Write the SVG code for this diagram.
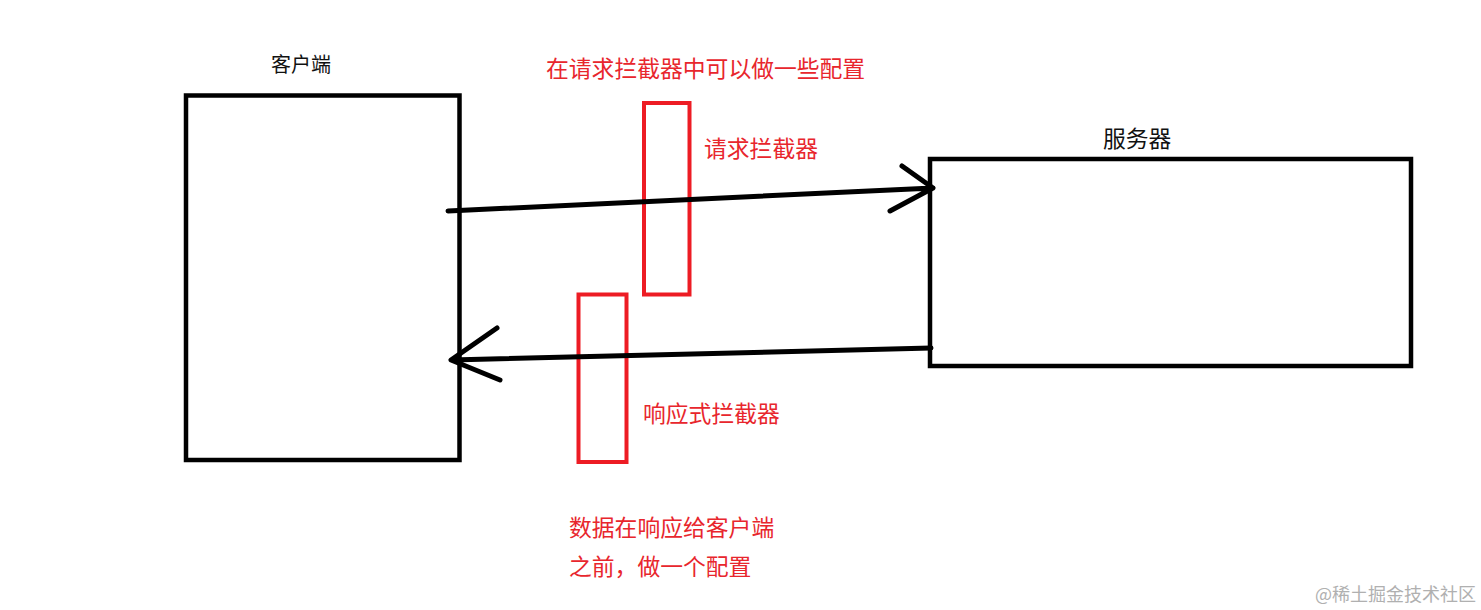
<svg xmlns="http://www.w3.org/2000/svg" width="1481" height="610" viewBox="0 0 1481 610">
<style>
.box{fill:none;stroke:#000;stroke-width:4.5}
.rbox{fill:none;stroke:#ED1C24;stroke-width:4}
.ln{fill:none;stroke:#000;stroke-width:5;stroke-linecap:round;stroke-linejoin:round}
.t{font-family:"Noto Sans CJK SC","Noto Sans",sans-serif;font-size:22.8px}
.k{fill:#111}
.r{fill:#E8262D}
.w{fill:#b0b0b0;font-size:18px}
</style>
<rect width="1481" height="610" fill="#fff"/>
<g id="client">
<rect class="box" x="186" y="95.5" width="273.5" height="364.5"/>
<text class="t k" x="271" y="72" style="font-size:20px">客户端</text>
</g>
<g id="server">
<rect class="box" x="930" y="159" width="481" height="207"/>
<text class="t k" x="1103" y="147">服务器</text>
</g>
<g id="req-interceptor">
<rect class="rbox" x="644" y="103" width="45.5" height="191.5"/>
<text class="t r" x="704" y="157">请求拦截器</text>
</g>
<g id="res-interceptor">
<rect class="rbox" x="578.5" y="294.5" width="48" height="167.5"/>
<text class="t r" x="643" y="422">响应式拦截器</text>
</g>
<g id="notes">
<text class="t r" x="546" y="77">在请求拦截器中可以做一些配置</text>
<text class="t r" x="569" y="536">数据在响应给客户端</text>
<text class="t r" x="569" y="575">之前，做一个配置</text>
<text class="t w" x="1315" y="601">@稀土掘金技术社区</text>
</g>
<g id="connectors">
<path class="ln" d="M448 211 L933 188 M902 166 L933 188 L890 211"/>
<path class="ln" d="M931 348 L451 360 M497 328 L451 360 L500 380"/>
</g>
</svg>
